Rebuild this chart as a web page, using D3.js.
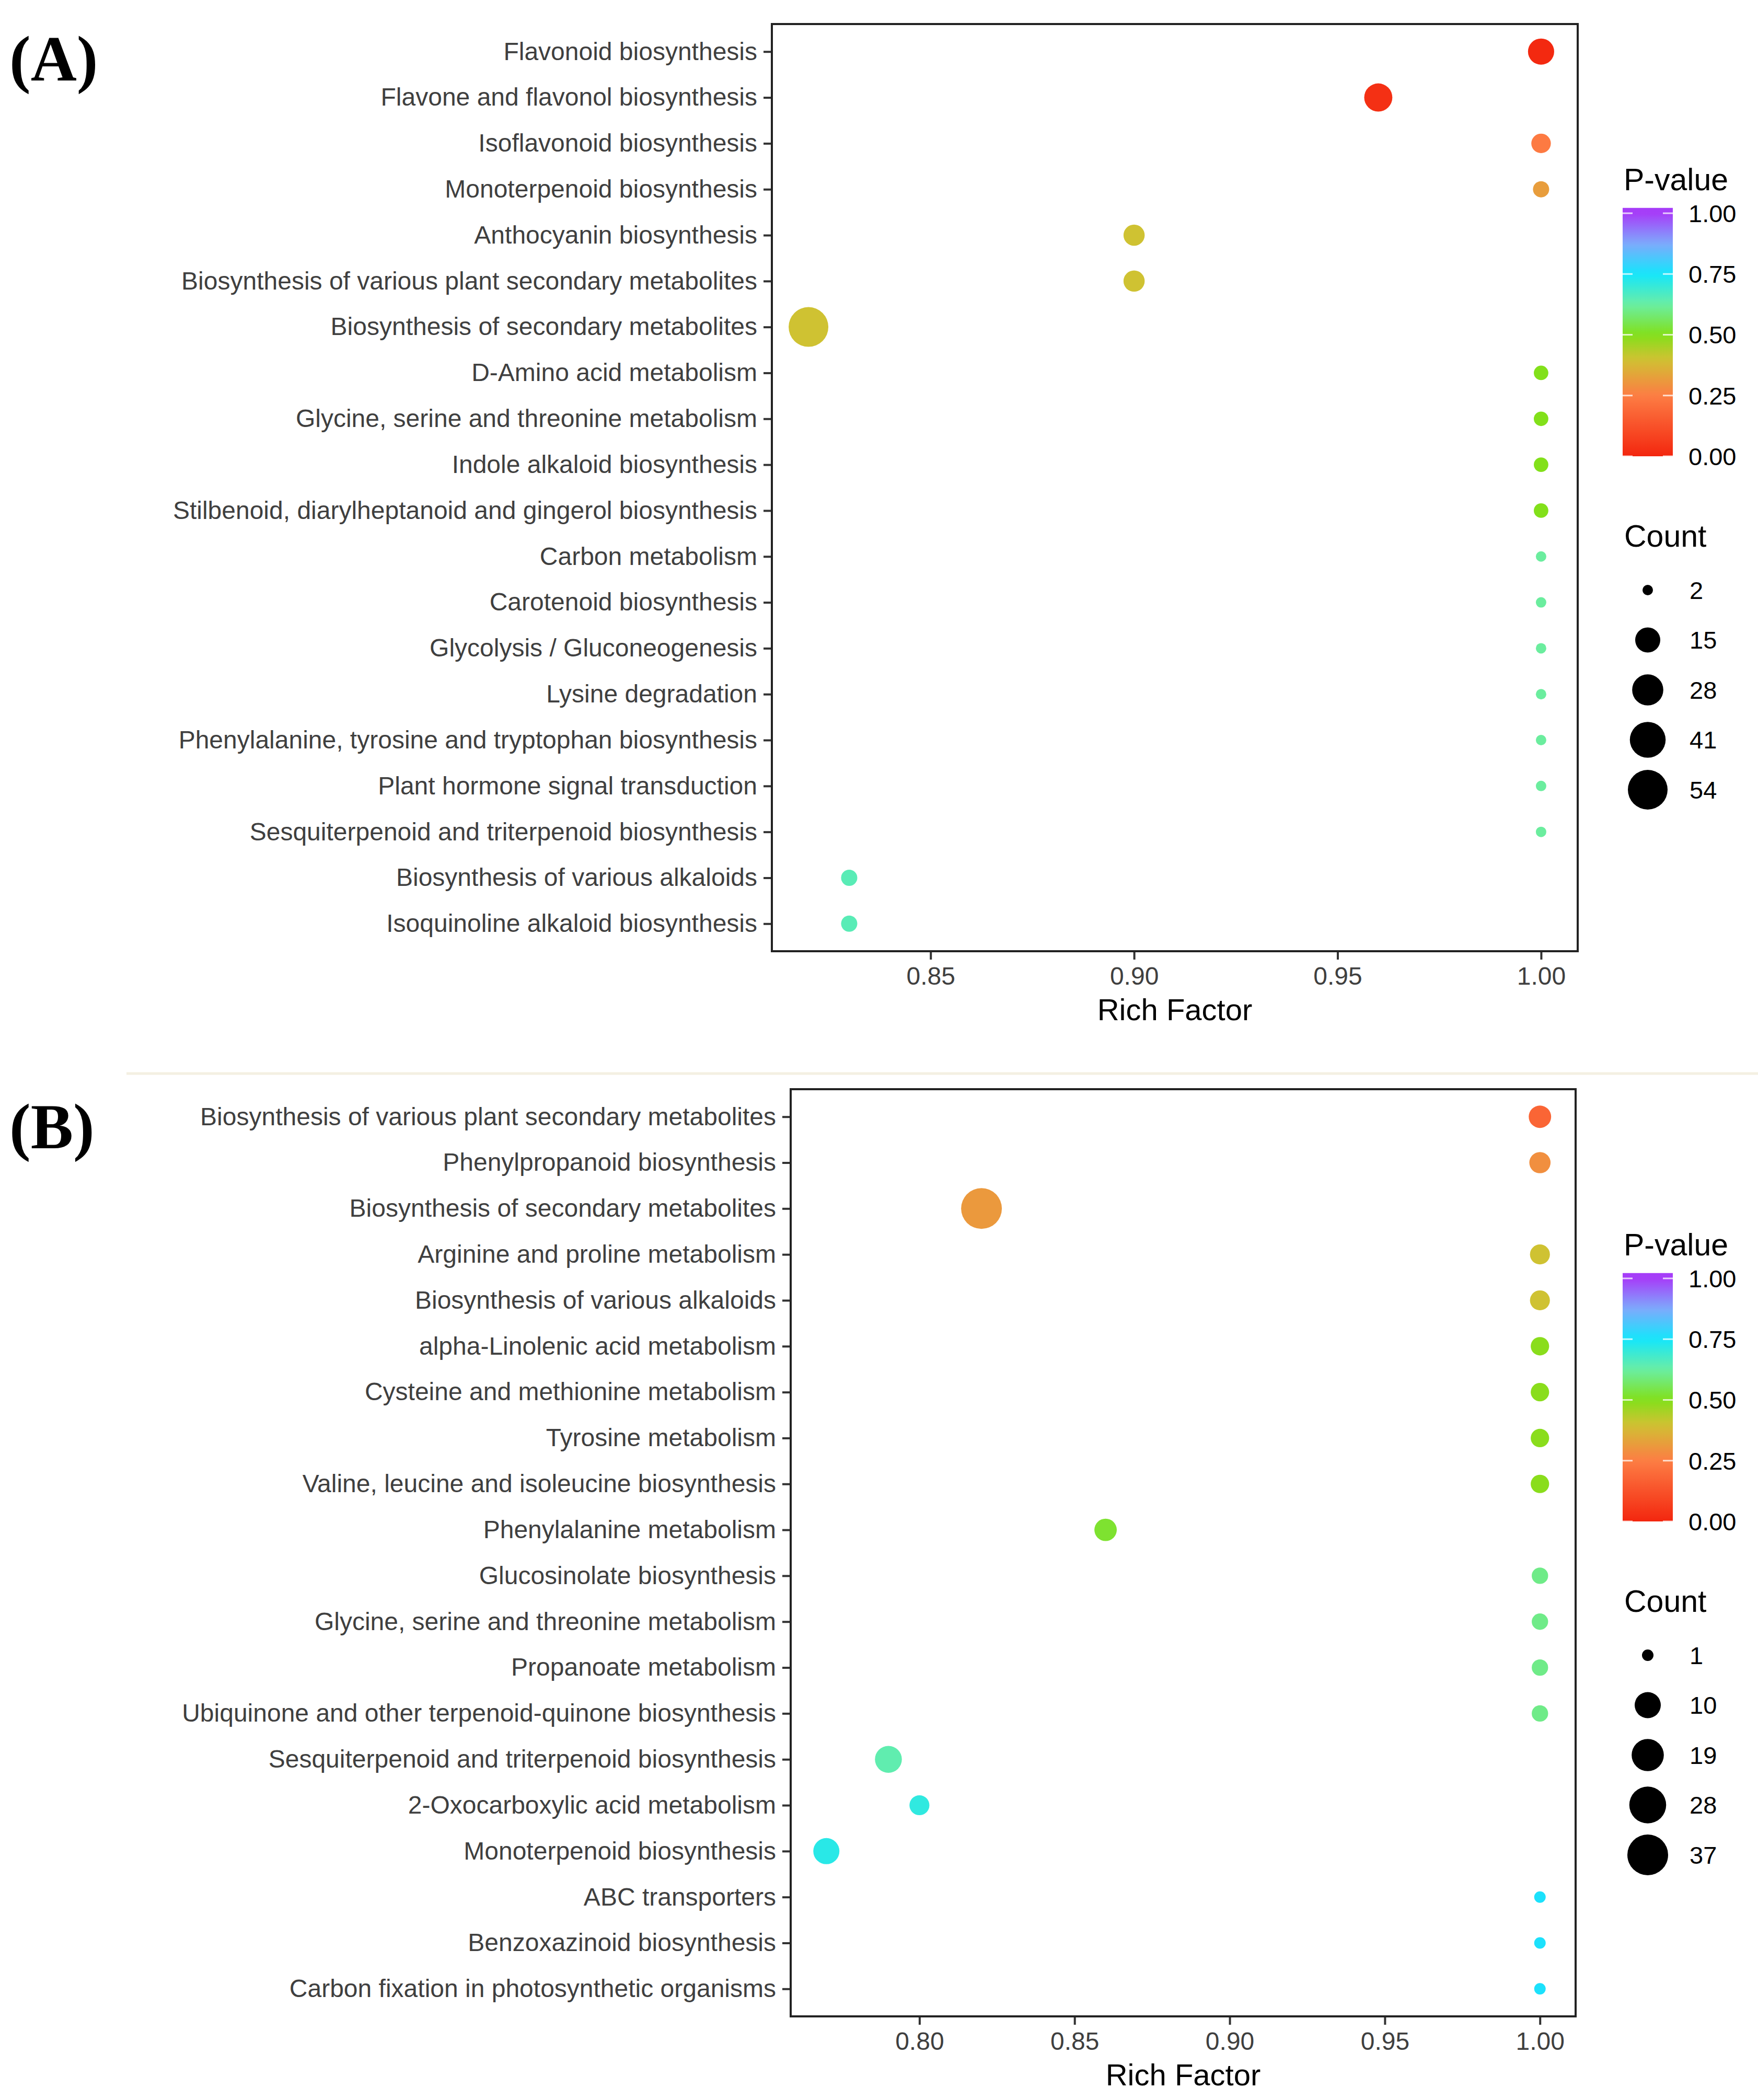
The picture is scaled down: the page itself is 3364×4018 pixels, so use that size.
<!DOCTYPE html>
<html><head><meta charset="utf-8">
<script src="https://cdn.jsdelivr.net/npm/d3@7"></script>
<style>html,body{margin:0;padding:0;background:#fff}</style>
</head><body>
<script>
// ---------- data ----------
const catsA = ["Flavonoid biosynthesis","Flavone and flavonol biosynthesis","Isoflavonoid biosynthesis","Monoterpenoid biosynthesis","Anthocyanin biosynthesis","Biosynthesis of various plant secondary metabolites","Biosynthesis of secondary metabolites","D-Amino acid metabolism","Glycine, serine and threonine metabolism","Indole alkaloid biosynthesis","Stilbenoid, diarylheptanoid and gingerol biosynthesis","Carbon metabolism","Carotenoid biosynthesis","Glycolysis / Gluconeogenesis","Lysine degradation","Phenylalanine, tyrosine and tryptophan biosynthesis","Plant hormone signal transduction","Sesquiterpenoid and triterpenoid biosynthesis","Biosynthesis of various alkaloids","Isoquinoline alkaloid biosynthesis"];
const richA  = [1.00,0.96,1.00,1.00,0.90,0.90,0.82,1.00,1.00,1.00,1.00,1.00,1.00,1.00,1.00,1.00,1.00,1.00,0.83,0.83];
const countA = [17,21,7,4,9,9,54,3,3,3,3,2,2,2,2,2,2,2,4,4];
const pA     = [0.01,0.03,0.24,0.32,0.40,0.40,0.40,0.50,0.50,0.50,0.50,0.62,0.62,0.62,0.62,0.62,0.62,0.62,0.65,0.65];
const xTicksA = [0.85,0.90,0.95,1.00];
const countBreaksA = [2,15,28,41,54];

const catsB = ["Biosynthesis of various plant secondary metabolites","Phenylpropanoid biosynthesis","Biosynthesis of secondary metabolites","Arginine and proline metabolism","Biosynthesis of various alkaloids","alpha-Linolenic acid metabolism","Cysteine and methionine metabolism","Tyrosine metabolism","Valine, leucine and isoleucine biosynthesis","Phenylalanine metabolism","Glucosinolate biosynthesis","Glycine, serine and threonine metabolism","Propanoate metabolism","Ubiquinone and other terpenoid-quinone biosynthesis","Sesquiterpenoid and triterpenoid biosynthesis","2-Oxocarboxylic acid metabolism","Monoterpenoid biosynthesis","ABC transporters","Benzoxazinoid biosynthesis","Carbon fixation in photosynthetic organisms"];
const richB  = [1.00,1.00,0.82,1.00,1.00,1.00,1.00,1.00,1.00,0.86,1.00,1.00,1.00,1.00,0.79,0.80,0.77,1.00,1.00,1.00];
const countB = [6,5,37,4,4,3,3,3,3,6,2,2,2,2,11,4,10,1,1,1];
const pB     = [0.18,0.29,0.31,0.40,0.40,0.49,0.49,0.49,0.49,0.52,0.60,0.60,0.60,0.60,0.64,0.71,0.72,0.76,0.76,0.76];
const xTicksB = [0.80,0.85,0.90,0.95,1.00];
const countBreaksB = [1,10,19,28,37];

const pTicks = [0.00,0.25,0.50,0.75,1.00];
const rampStops  = [0.00,0.25,0.40,0.50,0.625,0.75,0.875,1.00];
const rampColors = ["#f3260e","#fd7d44","#cfc232","#82e01a","#6aeea4","#14e6fc","#7eaafc","#a63cf8"];

// ---------- drawing ----------
const W = 3364, H = 4018;
const svg = d3.select("body").append("svg").attr("width", W).attr("height", H)
  .attr("font-family", "'Liberation Sans', Arial, Helvetica, sans-serif");
svg.append("rect").attr("width", W).attr("height", H).attr("fill", "#fff");

const color = d3.scaleLinear().domain(rampStops).range(rampColors).interpolate(d3.interpolateRgb).clamp(true);

// faint separator
svg.append("line").attr("x1", 242).attr("x2", W).attr("y1", 2054).attr("y2", 2054)
  .attr("stroke", "#f4f0e2").attr("stroke-width", 5);

function panel(o) {
  const g = svg.append("g");
  const left = o.left, right = o.right, top = o.top, bottom = o.bottom;
  const ext = d3.extent(o.rich);
  const pad = (ext[1] - ext[0]) * 0.05;
  const x = d3.scaleLinear().domain([ext[0] - pad, ext[1] + pad]).range([left, right]);
  const y = d3.scalePoint().domain(o.cats).range([top, bottom]).padding(0.6);
  const cmin = d3.min(o.breaks), cmax = d3.max(o.breaks);
  const sz = d3.scaleSqrt().domain([0, cmax - cmin]).range([0, o.dmax - o.dmin]);
  const diam = c => o.dmin + sz(Math.max(0, c - cmin));

  // panel label
  svg.append("text").attr("x", 18).attr("y", o.labelY).text(o.label)
    .attr("font-family", "'Liberation Serif', 'Times New Roman', serif")
    .attr("font-weight", "bold").attr("font-size", 122).attr("fill", "#000");

  // axes
  const ya = g.append("g").attr("transform", `translate(${left},0)`)
    .call(d3.axisLeft(y).tickSize(16).tickPadding(12));
  const xa = g.append("g").attr("transform", `translate(0,${bottom})`)
    .call(d3.axisBottom(x).tickValues(o.ticks).tickFormat(d3.format(".2f")).tickSize(16).tickPadding(14));
  [ya, xa].forEach(a => {
    a.select(".domain").remove();
    a.selectAll(".tick line").attr("stroke", "#333").attr("stroke-width", 4);
    a.selectAll(".tick text").attr("font-size", 48).attr("fill", "#3f3f3f")
      .attr("font-family", "'Liberation Sans', Arial, Helvetica, sans-serif");
  });

  // points
  const data = o.cats.map((c, i) => ({ c, r: o.rich[i], n: o.count[i], p: o.p[i] }));
  g.append("g").selectAll("circle").data(data).join("circle")
    .attr("cx", d => x(d.r)).attr("cy", d => y(d.c))
    .attr("r", d => diam(d.n) / 2).attr("fill", d => color(d.p));

  // border
  g.append("rect").attr("x", left).attr("y", top).attr("width", right - left).attr("height", bottom - top)
    .attr("fill", "none").attr("stroke", "#222").attr("stroke-width", 4);

  // x title
  g.append("text").attr("x", (left + right) / 2).attr("y", bottom + 132).attr("text-anchor", "middle")
    .attr("font-size", 58).attr("fill", "#000").text("Rich Factor");

  // ----- legend -----
  const lx = 3105;
  g.append("text").attr("x", lx + 2).attr("y", top + 318).attr("font-size", 59).attr("fill", "#000").text("P-value");
  const barW = 96;
  const cy = d3.scaleLinear().domain([0, 1]).range([top + 827, top + 362]);
  const gid = "grad" + o.label.replace(/\W/g, "");
  const grad = svg.append("defs").append("linearGradient").attr("id", gid)
    .attr("x1", 0).attr("x2", 0).attr("y1", 1).attr("y2", 0);
  const barTopVal = 1.022;
  d3.range(0, 41).forEach(i => {
    const v = barTopVal * i / 40;
    grad.append("stop").attr("offset", (i / 40)).attr("stop-color", color(v));
  });
  g.append("rect").attr("x", lx).attr("y", cy(barTopVal)).attr("width", barW)
    .attr("height", cy(0) - cy(barTopVal)).attr("fill", `url(#${gid})`);
  pTicks.forEach(t => {
    [[lx, lx + 19], [lx + barW - 19, lx + barW]].forEach(([a, b]) => {
      g.append("line").attr("x1", a).attr("x2", b).attr("y1", cy(t)).attr("y2", cy(t))
        .attr("stroke", "#fff").attr("stroke-opacity", 0.75).attr("stroke-width", 3);
    });
  });
  g.append("g").selectAll("text").data(pTicks).join("text")
    .attr("x", lx + 126).attr("y", d => cy(d)).attr("dy", "0.36em")
    .attr("font-size", 47).attr("fill", "#000").text(d3.format(".2f"));

  g.append("text").attr("x", lx + 3).attr("y", top + 1000).attr("font-size", 59).attr("fill", "#000").text("Count");
  const ky = d3.scalePoint().domain(o.breaks).range([top + 1083, top + 1083 + 4 * 95.5]);
  g.append("g").selectAll("circle").data(o.breaks).join("circle")
    .attr("cx", lx + 48).attr("cy", d => ky(d)).attr("r", d => diam(d) / 2).attr("fill", "#000");
  g.append("g").selectAll("text").data(o.breaks).join("text")
    .attr("x", lx + 128).attr("y", d => ky(d)).attr("dy", "0.36em")
    .attr("font-size", 47).attr("fill", "#000").text(d => d);
}

panel({ label: "(A)", labelY: 154, left: 1477, right: 3019, top: 46, bottom: 1820,
  cats: catsA, rich: richA, count: countA, p: pA, ticks: xTicksA, breaks: countBreaksA, dmin: 20, dmax: 76 });
panel({ label: "(B)", labelY: 2197, left: 1513, right: 3015, top: 2084, bottom: 3858,
  cats: catsB, rich: richB, count: countB, p: pB, ticks: xTicksB, breaks: countBreaksB, dmin: 22, dmax: 78 });
</script>
</body></html>
